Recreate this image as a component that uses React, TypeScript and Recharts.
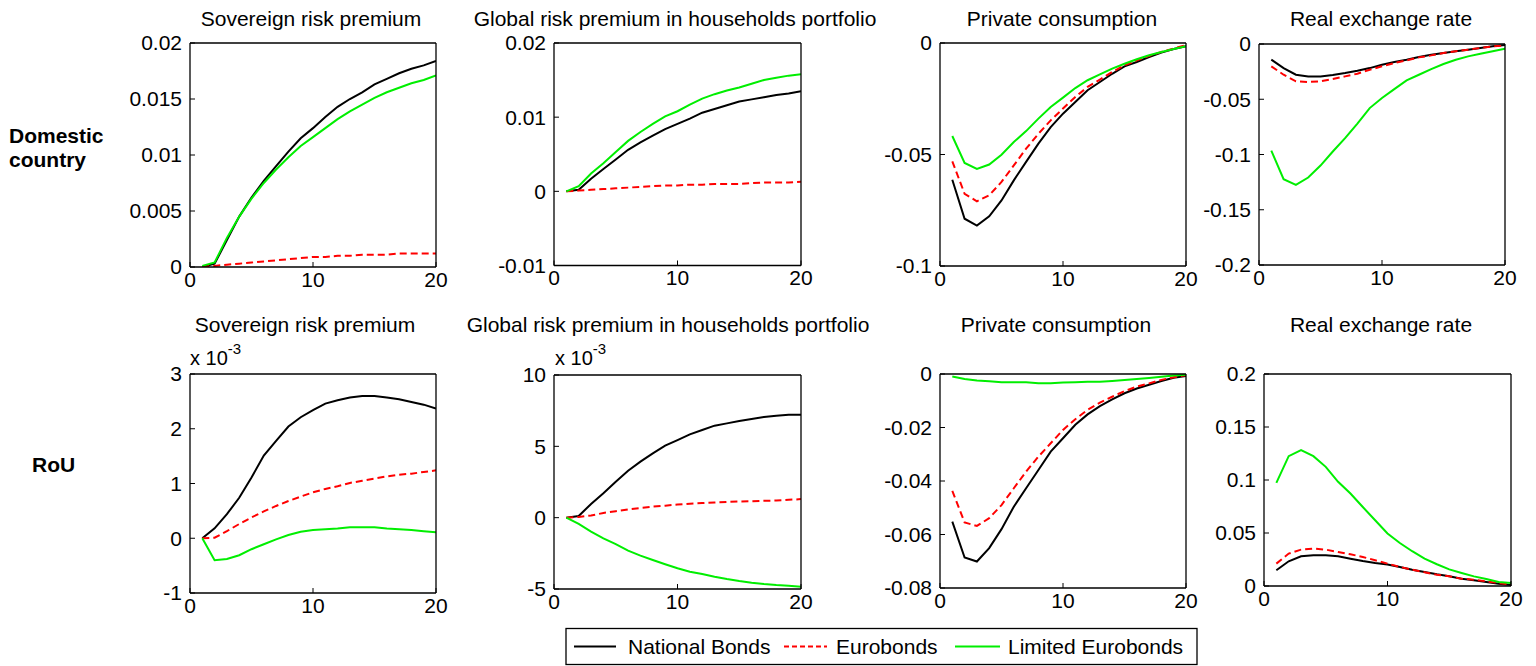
import React from 'react';
import { LineChart, Line, XAxis, YAxis } from 'recharts';

const FONT = '"Liberation Sans", Arial, Helvetica, sans-serif';
const FS = 21;

// horizon (quarters)
const periods = [1, 2, 3, 4, 5, 6, 7, 8, 9, 10, 11, 12, 13, 14, 15, 16, 17, 18, 19, 20];
const xTicks = [0, 10, 20];

const seriesNames = ['National Bonds', 'Eurobonds', 'Limited Eurobonds'];
const rowLabels = ['Domestic', 'country', 'RoU'];
const titles = [
  'Sovereign risk premium',
  'Global risk premium in households portfolio',
  'Private consumption',
  'Real exchange rate',
];

// ---------- Domestic country ----------
const domSovNational = [0, 0.0003, 0.0024, 0.0045, 0.0062, 0.0077, 0.009, 0.0103, 0.0115, 0.0124, 0.0134, 0.0143, 0.015, 0.0156, 0.0163, 0.0168, 0.0173, 0.0177, 0.018, 0.0184];
const domSovEuro = [0, 0.0001, 0.0002, 0.0003, 0.0004, 0.0005, 0.0006, 0.0007, 0.0008, 0.0009, 0.0009, 0.001, 0.001, 0.0011, 0.0011, 0.0011, 0.0012, 0.0012, 0.0012, 0.0012];
const domSovLimited = [0.0001, 0.0004, 0.0026, 0.0045, 0.0061, 0.0075, 0.0087, 0.0098, 0.0108, 0.0116, 0.0124, 0.0132, 0.0139, 0.0145, 0.0151, 0.0156, 0.016, 0.0164, 0.0167, 0.0171];

const domGlobNational = [0, 0.0002, 0.0017, 0.003, 0.0043, 0.0056, 0.0066, 0.0075, 0.0084, 0.0091, 0.0098, 0.0106, 0.0111, 0.0116, 0.0121, 0.0124, 0.0127, 0.013, 0.0132, 0.0135];
const domGlobEuro = [0, 0.0001, 0.0002, 0.0003, 0.0004, 0.0005, 0.0006, 0.0007, 0.0008, 0.0008, 0.0009, 0.0009, 0.001, 0.001, 0.001, 0.0011, 0.0012, 0.0012, 0.0012, 0.0013];
const domGlobLimited = [0, 0.0007, 0.0024, 0.0038, 0.0053, 0.0068, 0.008, 0.0091, 0.0101, 0.0108, 0.0117, 0.0125, 0.0131, 0.0136, 0.014, 0.0145, 0.015, 0.0153, 0.0156, 0.0158];

const domConsNational = [-0.0613, -0.0788, -0.0819, -0.0777, -0.0706, -0.0616, -0.0533, -0.0451, -0.0377, -0.0317, -0.0265, -0.0212, -0.0175, -0.0138, -0.0105, -0.0085, -0.0063, -0.0043, -0.0027, -0.0015];
const domConsEuro = [-0.0531, -0.0676, -0.071, -0.0683, -0.0623, -0.0549, -0.0474, -0.0407, -0.0347, -0.0294, -0.0242, -0.0197, -0.0164, -0.013, -0.01, -0.0078, -0.0058, -0.004, -0.0025, -0.0009];
const domConsLimited = [-0.0417, -0.0538, -0.0565, -0.0545, -0.0501, -0.0444, -0.0395, -0.0339, -0.0287, -0.0245, -0.0202, -0.0167, -0.0141, -0.0115, -0.0093, -0.0073, -0.0055, -0.004, -0.0027, -0.0015];

const domRerNational = [-0.0142, -0.0218, -0.0278, -0.0293, -0.0293, -0.0281, -0.0263, -0.0242, -0.0218, -0.0187, -0.0163, -0.0142, -0.0118, -0.0097, -0.0082, -0.0066, -0.0051, -0.0036, -0.0021, -0.0009];
const domRerEuro = [-0.0202, -0.0278, -0.0338, -0.0344, -0.0338, -0.0317, -0.0293, -0.0269, -0.0233, -0.0202, -0.0172, -0.0148, -0.0121, -0.0103, -0.0082, -0.0066, -0.0051, -0.0036, -0.0021, -0.0012];
const domRerLimited = [-0.0964, -0.1224, -0.1275, -0.1208, -0.11, -0.0973, -0.0852, -0.072, -0.058, -0.0489, -0.0408, -0.0329, -0.0278, -0.0227, -0.0181, -0.0142, -0.0112, -0.0088, -0.0066, -0.0042];

// ---------- Rest of the Union ----------
const rouSovNational = [0, 0.00018, 0.00044, 0.00074, 0.00111, 0.00151, 0.00178, 0.00204, 0.00221, 0.00234, 0.00246, 0.00252, 0.00257, 0.0026, 0.0026, 0.00257, 0.00254, 0.00249, 0.00244, 0.00237];
const rouSovEuro = [0, 0.00001, 0.00013, 0.00026, 0.00038, 0.00049, 0.00059, 0.00068, 0.00076, 0.00084, 0.0009, 0.00095, 0.00101, 0.00105, 0.00109, 0.00113, 0.00116, 0.00118, 0.00121, 0.00124];
const rouSovLimited = [0, -0.0004, -0.00038, -0.00031, -0.0002, -0.00011, -0.00002, 0.00006, 0.00012, 0.00015, 0.000165, 0.00018, 0.0002, 0.0002, 0.0002, 0.00018, 0.000165, 0.00015, 0.00013, 0.00011];

const rouGlobNational = [0, 0.00012, 0.00096, 0.00171, 0.00252, 0.00329, 0.00393, 0.00451, 0.00505, 0.00544, 0.00584, 0.00614, 0.00645, 0.00661, 0.00678, 0.00692, 0.00706, 0.00715, 0.00722, 0.00722];
const rouGlobEuro = [0, 0.00005, 0.00015, 0.00033, 0.00045, 0.00058, 0.00068, 0.00077, 0.00084, 0.00092, 0.00098, 0.00102, 0.00106, 0.0011, 0.00113, 0.00115, 0.00118, 0.0012, 0.00125, 0.0013];
const rouGlobLimited = [0, -0.00044, -0.00098, -0.00145, -0.00185, -0.00231, -0.00266, -0.00297, -0.00327, -0.00355, -0.00379, -0.00395, -0.00414, -0.0043, -0.00444, -0.00456, -0.00465, -0.00472, -0.00477, -0.00484];

const rouConsNational = [-0.0552, -0.0686, -0.0701, -0.0651, -0.058, -0.0496, -0.0427, -0.0359, -0.029, -0.024, -0.019, -0.0151, -0.012, -0.0095, -0.0072, -0.0054, -0.004, -0.0026, -0.0014, -0.0007];
const rouConsEuro = [-0.0437, -0.0555, -0.0568, -0.0539, -0.049, -0.0427, -0.0365, -0.0309, -0.0259, -0.0209, -0.0169, -0.0134, -0.0107, -0.0085, -0.0064, -0.0047, -0.0035, -0.0022, -0.0012, -0.0005];
const rouConsLimited = [-0.0009, -0.0019, -0.0024, -0.0027, -0.0031, -0.0031, -0.0031, -0.0035, -0.0035, -0.0032, -0.0031, -0.0029, -0.0029, -0.0026, -0.0022, -0.0019, -0.0015, -0.001, -0.0006, -0.0003];

const rouRerNational = [0.0148, 0.0233, 0.028, 0.029, 0.029, 0.028, 0.0258, 0.0236, 0.0217, 0.0202, 0.018, 0.0154, 0.0132, 0.011, 0.0091, 0.0069, 0.0054, 0.0038, 0.0022, 0.0009];
const rouRerEuro = [0.0211, 0.0306, 0.0343, 0.0353, 0.0343, 0.0321, 0.0299, 0.0274, 0.0243, 0.0211, 0.018, 0.0154, 0.0129, 0.0107, 0.0091, 0.0069, 0.006, 0.0044, 0.0028, 0.0013];
const rouRerLimited = [0.0973, 0.1225, 0.1282, 0.1225, 0.1124, 0.0983, 0.0872, 0.0745, 0.062, 0.0495, 0.0406, 0.0328, 0.0258, 0.0205, 0.0157, 0.0123, 0.0091, 0.0066, 0.0038, 0.0028];

// y-axis ticks
const ticksDomSov = [0, 0.005, 0.01, 0.015, 0.02];
const ticksDomGlob = [-0.01, 0, 0.01, 0.02];
const ticksDomCons = [-0.1, -0.05, 0];
const ticksDomRer = [-0.2, -0.15, -0.1, -0.05, 0];
const ticksRouSov = [-0.001, 0, 0.001, 0.002, 0.003];
const ticksRouGlob = [-0.005, 0, 0.005, 0.01];
const ticksRouCons = [-0.08, -0.06, -0.04, -0.02, 0];
const ticksRouRer = [0, 0.05, 0.1, 0.15, 0.2];

const COLORS = ['#000000', '#ff0000', '#00ee00'];
const DASH = [undefined, '7 4', undefined];

const build = (a: number[], b: number[], c: number[]) =>
  periods.map((x, i) => ({ x, nb: a[i], eb: b[i], le: c[i] }));

const plain = (v: number) => String(v);
const milli = (v: number) => String(Math.round(v * 1000));

type Box = [number, number, number, number];

interface PanelProps {
  box: Box;
  data: { x: number; nb: number; eb: number; le: number }[];
  ticks: number[];
  fmt: (v: number) => string;
}

const axisLineStyle = { stroke: '#000', strokeWidth: 1.3 };
const tickLineStyle = { stroke: '#000', strokeWidth: 1 };
const tickText = { fill: '#000', fontSize: FS, fontFamily: FONT };

function Panel({ box, data, ticks, fmt }: PanelProps) {
  const YW = 80;
  const MT = 14;
  const MR = 26;
  const XH = 36;
  const [L, T, R, B] = box;
  const left = L - YW;
  const top = T - MT - 1;
  const width = R - left + MR + 1;
  const height = MT + 1 + (B - T) + XH;
  const domain: [number, number] = [ticks[0], ticks[ticks.length - 1]];
  const keys = ['nb', 'eb', 'le'];
  return (
    <div style={{ position: 'absolute', left, top }}>
      <LineChart width={width} height={height} data={data} margin={{ top: MT, right: MR, left: 0, bottom: 0 }}>
        <XAxis
          xAxisId="b"
          dataKey="x"
          type="number"
          domain={[0, 20]}
          ticks={xTicks}
          interval={0}
          height={XH}
          tickSize={-5}
          tickMargin={10}
          axisLine={axisLineStyle}
          tickLine={tickLineStyle}
          tick={tickText}
          allowDataOverflow
        />
        <XAxis
          xAxisId="t"
          orientation="top"
          type="number"
          domain={[0, 20]}
          ticks={xTicks}
          interval={0}
          height={1}
          tickSize={-5}
          axisLine={axisLineStyle}
          tickLine={tickLineStyle}
          tick={false}
          allowDataOverflow
        />
        <YAxis
          yAxisId="l"
          type="number"
          domain={domain}
          ticks={ticks}
          interval={0}
          width={YW}
          tickSize={-5}
          tickMargin={13}
          tickFormatter={fmt}
          axisLine={axisLineStyle}
          tickLine={tickLineStyle}
          tick={tickText}
          allowDataOverflow
        />
        <YAxis
          yAxisId="r"
          orientation="right"
          type="number"
          domain={domain}
          ticks={ticks}
          interval={0}
          width={1}
          tickSize={-5}
          axisLine={axisLineStyle}
          tickLine={tickLineStyle}
          tick={false}
          allowDataOverflow
        />
        {keys.map((k, i) => (
          <Line
            key={k}
            xAxisId="b"
            yAxisId="l"
            type="linear"
            dataKey={k}
            name={seriesNames[i]}
            stroke={COLORS[i]}
            strokeWidth={2}
            strokeDasharray={DASH[i]}
            dot={false}
            activeDot={false}
            isAnimationActive={false}
          />
        ))}
      </LineChart>
    </div>
  );
}

const panels: { box: Box; data: any[]; ticks: number[]; fmt: (v: number) => string; titleX: number; titleY: number; title: string }[] = [
  { box: [190, 43, 436, 267], data: build(domSovNational, domSovEuro, domSovLimited), ticks: ticksDomSov, fmt: plain, titleX: 311, titleY: 26, title: titles[0] },
  { box: [554, 43, 801, 265.5], data: build(domGlobNational, domGlobEuro, domGlobLimited), ticks: ticksDomGlob, fmt: plain, titleX: 675, titleY: 26, title: titles[1] },
  { box: [940, 43, 1186, 266], data: build(domConsNational, domConsEuro, domConsLimited), ticks: ticksDomCons, fmt: plain, titleX: 1062, titleY: 26, title: titles[2] },
  { box: [1259, 44, 1505, 265], data: build(domRerNational, domRerEuro, domRerLimited), ticks: ticksDomRer, fmt: plain, titleX: 1381, titleY: 26, title: titles[3] },
  { box: [190, 374, 436, 593], data: build(rouSovNational, rouSovEuro, rouSovLimited), ticks: ticksRouSov, fmt: milli, titleX: 305, titleY: 332, title: titles[0] },
  { box: [554, 375, 801, 589], data: build(rouGlobNational, rouGlobEuro, rouGlobLimited), ticks: ticksRouGlob, fmt: milli, titleX: 668, titleY: 332, title: titles[1] },
  { box: [940, 374, 1186, 588], data: build(rouConsNational, rouConsEuro, rouConsLimited), ticks: ticksRouCons, fmt: plain, titleX: 1056, titleY: 332, title: titles[2] },
  { box: [1264, 374, 1511, 586], data: build(rouRerNational, rouRerEuro, rouRerLimited), ticks: ticksRouRer, fmt: plain, titleX: 1381, titleY: 332, title: titles[3] },
];

export default function App() {
  const legendLines = [
    { x1: 574, x2: 616, tx: 628 },
    { x1: 784, x2: 827, tx: 836 },
    { x1: 955, x2: 1000, tx: 1008 },
  ];
  return (
    <div style={{ position: 'absolute', left: 0, top: 0, width: 1536, height: 666, background: '#fff', overflow: 'hidden' }}>
      {panels.map((p, i) => (
        <Panel key={i} box={p.box} data={p.data} ticks={p.ticks} fmt={p.fmt} />
      ))}
      <svg width={1536} height={666} style={{ position: 'absolute', left: 0, top: 0, pointerEvents: 'none' }}>
        <g fontFamily={FONT} fontSize={FS} fill="#000">
          {panels.map((p, i) => (
            <text key={i} x={p.titleX} y={p.titleY} textAnchor="middle">
              {p.title}
            </text>
          ))}
          <text x={9} y={143} fontWeight="bold">{rowLabels[0]}</text>
          <text x={9} y={167} fontWeight="bold">{rowLabels[1]}</text>
          <text x={32} y={472} fontWeight="bold">{rowLabels[2]}</text>
          <text x={190} y={365} fontSize={20}>
            x 10<tspan dy={-11} fontSize={15}>-3</tspan>
          </text>
          <text x={555} y={365} fontSize={20}>
            x 10<tspan dy={-11} fontSize={15}>-3</tspan>
          </text>
        </g>
        <rect x={566} y={628.5} width={631} height={36} fill="#fff" stroke="#000" strokeWidth={1.3} />
        {legendLines.map((l, i) => (
          <g key={i}>
            <line x1={l.x1} x2={l.x2} y1={646.5} y2={646.5} stroke={COLORS[i]} strokeWidth={2} strokeDasharray={DASH[i] ? '5 3' : undefined} />
            <text x={l.tx} y={654} fontFamily={FONT} fontSize={FS} fill="#000">
              {seriesNames[i]}
            </text>
          </g>
        ))}
      </svg>
    </div>
  );
}
